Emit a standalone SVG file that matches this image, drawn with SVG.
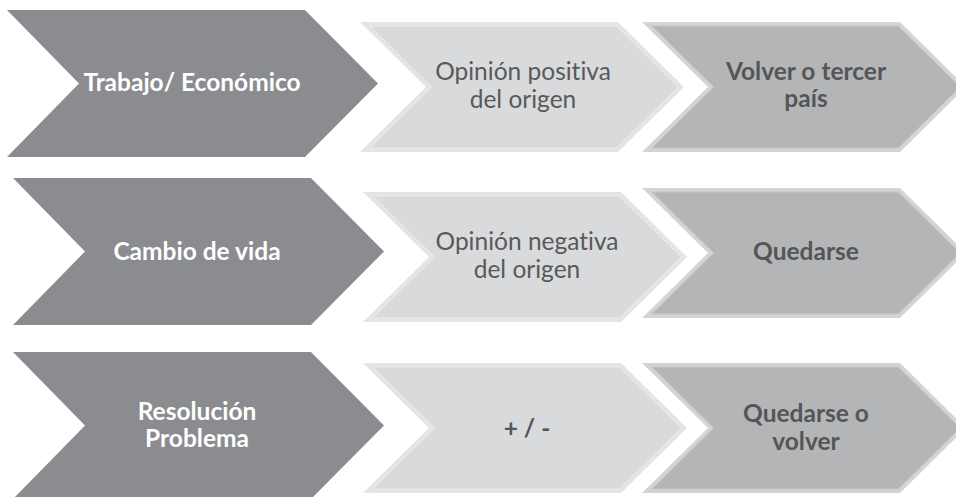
<svg xmlns="http://www.w3.org/2000/svg" xmlns:xlink="http://www.w3.org/1999/xlink" width="956" height="497" viewBox="0 0 956 497">
  <style>
    .t { font-family: Lato, "Open Sans", "Liberation Sans", sans-serif; font-size: 24.5px; text-anchor: middle; font-variant-ligatures: none; }
    .w { fill: #ffffff; font-weight: bold; }
    .r { fill: #58595b; font-weight: normal; }
    .b { fill: #545557; font-weight: bold; }
    .dark { fill: #8b8c8f; }
    .lrim { fill: #e4e4e6; }
    .lin { fill: #d9dadc; stroke: #ececee; stroke-width: 1; }
    .mrim { fill: #d3d4d6; }
    .min { fill: #b4b5b7; stroke: #c6c7c9; stroke-width: 1; }
  </style>
  <defs>
    <polygon id="c1" points="0,0 298,0 371,73.5 298,147 0,147 72,73.5"/>
    <polygon id="co" points="0,0 258,0 324,65 258,130 0,130 66,65"/>
    <polygon id="ci" points="9.7,4 256.3,4 318.3,65 256.3,126 9.7,126 71.7,65"/>
  </defs>
  <rect width="956" height="497" fill="#ffffff"/>

  <g id="r1c1">
    <use xlink:href="#c1" href="#c1" class="dark" x="7" y="10"/>
    <text class="t w" x="192" y="91">Trabajo/ Económico</text>
  </g>
  <g id="r1c2">
    <use xlink:href="#co" href="#co" class="lrim" x="360" y="22"/>
    <use xlink:href="#ci" href="#ci" class="lin" x="360" y="22"/>
    <text class="t r" x="523" y="80">Opinión positiva</text>
    <text class="t r" x="523" y="108">del origen</text>
  </g>
  <g id="r1c3">
    <use xlink:href="#co" href="#co" class="mrim" x="642" y="22"/>
    <use xlink:href="#ci" href="#ci" class="min" x="642" y="22"/>
    <text class="t b" x="806" y="80">Volver o tercer</text>
    <text class="t b" x="806" y="107">país</text>
  </g>

  <g id="r2c1">
    <use xlink:href="#c1" href="#c1" class="dark" x="13" y="178"/>
    <text class="t w" x="197" y="260">Cambio de vida</text>
  </g>
  <g id="r2c2">
    <use xlink:href="#co" href="#co" class="lrim" x="363" y="192"/>
    <use xlink:href="#ci" href="#ci" class="lin" x="363" y="192"/>
    <text class="t r" x="527" y="250">Opinión negativa</text>
    <text class="t r" x="527" y="278">del origen</text>
  </g>
  <g id="r2c3">
    <use xlink:href="#co" href="#co" class="mrim" x="642" y="188"/>
    <use xlink:href="#ci" href="#ci" class="min" x="642" y="188"/>
    <text class="t b" x="806" y="260">Quedarse</text>
  </g>

  <g id="r3c1">
    <use xlink:href="#c1" href="#c1" class="dark" x="13" y="352"/>
    <text class="t w" x="197" y="420">Resolución</text>
    <text class="t w" x="197" y="447">Problema</text>
  </g>
  <g id="r3c2">
    <use xlink:href="#co" href="#co" class="lrim" x="363" y="363"/>
    <use xlink:href="#ci" href="#ci" class="lin" x="363" y="363"/>
    <text class="t b" x="527" y="437">+ / -</text>
  </g>
  <g id="r3c3">
    <use xlink:href="#co" href="#co" class="mrim" x="642" y="363"/>
    <use xlink:href="#ci" href="#ci" class="min" x="642" y="363"/>
    <text class="t b" x="806" y="422">Quedarse o</text>
    <text class="t b" x="806" y="450">volver</text>
  </g>

  <g id="connectors"/>
</svg>
